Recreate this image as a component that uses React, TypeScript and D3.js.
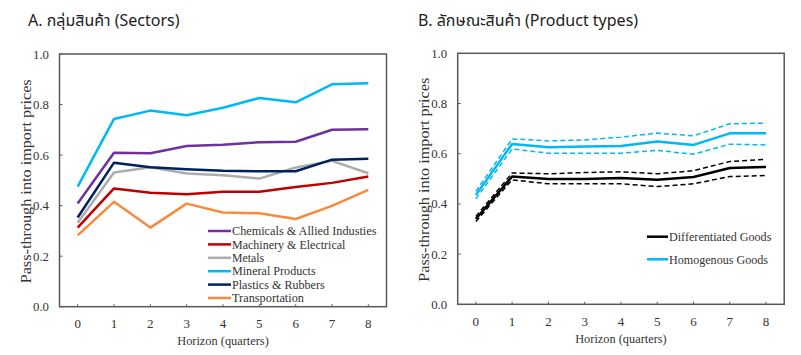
import React from "react";
import * as d3 from "d3";

const horizons = [0, 1, 2, 3, 4, 5, 6, 7, 8];
const yTicks = [0, 0.2, 0.4, 0.6, 0.8, 1.0];

const sectorNames = [
  "Chemicals & Allied Industies",
  "Machinery & Electrical",
  "Metals",
  "Mineral Products",
  "Plastics & Rubbers",
  "Transportation",
];
const chemicals = [0.408, 0.609, 0.607, 0.636, 0.641, 0.651, 0.653, 0.7, 0.702];
const machinery = [0.313, 0.468, 0.451, 0.445, 0.455, 0.455, 0.474, 0.49, 0.515];
const metals = [0.332, 0.531, 0.552, 0.527, 0.52, 0.507, 0.551, 0.577, 0.528];
const mineral = [0.475, 0.743, 0.776, 0.758, 0.787, 0.826, 0.809, 0.88, 0.884];
const plastics = [0.353, 0.57, 0.552, 0.544, 0.538, 0.536, 0.536, 0.582, 0.585];
const transportation = [0.282, 0.415, 0.313, 0.408, 0.373, 0.37, 0.347, 0.399, 0.462];
const sectorColors = ["#7030A0", "#C00000", "#ADADAD", "#00B8F5", "#002060", "#F68B3F"];

const productNames = ["Differentiated Goods", "Homogenous Goods"];
const diffMid = [0.34, 0.509, 0.499, 0.499, 0.503, 0.496, 0.507, 0.543, 0.547];
const diffUp = [0.35, 0.523, 0.52, 0.525, 0.528, 0.52, 0.532, 0.569, 0.578];
const diffLo = [0.33, 0.496, 0.48, 0.48, 0.48, 0.469, 0.48, 0.509, 0.513];
const homoMid = [0.435, 0.639, 0.626, 0.629, 0.631, 0.649, 0.635, 0.681, 0.681];
const homoUp = [0.45, 0.659, 0.651, 0.655, 0.666, 0.682, 0.671, 0.719, 0.722];
const homoLo = [0.42, 0.619, 0.602, 0.602, 0.602, 0.613, 0.598, 0.638, 0.635];
const productColors = ["#000000", "#00B8F5"];

// measured text widths in the reference (px)
const sectorLabelWidths = [144.4, 113.4, 32, 83.7, 92.7, 72];
const productLabelWidths = [102.4, 99];

const serif =
  "'Liberation Serif', Tinos, 'Nimbus Roman', 'Nimbus Roman No9 L', FreeSerif, 'Times New Roman', Times, 'DejaVu Serif', serif";
const sans = "Tahoma, 'Noto Sans Thai', 'Leelawadee UI', 'Noto Sans', 'DejaVu Sans', sans-serif";
const serifStyle = { fontFamily: serif };

type PanelProps = {
  x0: number; x1: number; yTop: number; yBot: number;
  children: (x: d3.ScaleLinear<number, number>, y: d3.ScaleLinear<number, number>) => React.ReactNode;
};

function Panel({ x0, x1, yTop, yBot, children }: PanelProps) {
  const x = d3.scaleLinear().domain([-0.5, 8.5]).range([x0, x1]);
  const y = d3.scaleLinear().domain([0, 1]).range([yBot, yTop]);
  const frame = "#595959";
  return (
    <g>
      {children(x, y)}
      <rect x={x0} y={yTop} width={x1 - x0} height={yBot - yTop} fill="none" stroke={frame} strokeWidth={1.5} />
      {yTicks.map((t) => (
        <g key={t}>
          <line x1={x0} x2={x0 + 3} y1={y(t)} y2={y(t)} stroke={frame} strokeWidth={1} />
          <text x={x0 - 10.5} y={y(t)} dy="0.35em" textAnchor="end" style={serifStyle} fontSize={13} fill="#333"
            textLength={16} lengthAdjust="spacingAndGlyphs">
            {t.toFixed(1)}
          </text>
        </g>
      ))}
      {horizons.map((h) => (
        <g key={h}>
          <line x1={x(h)} x2={x(h)} y1={yBot} y2={yBot - 2.5} stroke={frame} strokeWidth={1} />
          <text x={x(h)} y={yBot + 17} dy="0.35em" textAnchor="middle" style={serifStyle} fontSize={13} fill="#333">
            {h}
          </text>
        </g>
      ))}
      <text x={(x0 + x1) / 2} y={yBot + 34} dy="0.35em" textAnchor="middle" style={serifStyle} fontSize={13} fill="#333"
        textLength={91.5} lengthAdjust="spacingAndGlyphs">
        Horizon (quarters)
      </text>
      <text
        transform={`translate(${x0 - 34},${(yTop + yBot) / 2 + 1}) rotate(-90)`}
        textAnchor="middle"
        dy="0.35em"
        style={serifStyle}
        fontSize={15}
        fill="#333"
        textLength={204}
        lengthAdjust="spacingAndGlyphs"
      >
        Pass-through into import prices
      </text>
    </g>
  );
}

export default function App() {
  const sectors = [chemicals, machinery, metals, mineral, plastics, transportation];
  return (
    <svg width={801} height={355} style={{ position: "absolute", left: 0, top: 0, background: "#fff" }}>
      <text x={28} y={26} style={{ fontFamily: sans }} fontSize={16} fill="#222">A. กลุ่มสินค้า (Sectors)</text>
      <text x={418} y={26} style={{ fontFamily: sans }} fontSize={16} fill="#222">B. ลักษณะสินค้า (Product types)</text>

      <Panel x0={59.5} x1={386.5} yTop={54} yBot={306.7}>
        {(x, y) => {
          const line = (vals: number[]) =>
            d3.line<number>().x((_, i) => x(horizons[i])).y((v) => y(v))(vals) || "";
          return (
            <g>
              {sectors.map((s, i) => (
                <path key={i} d={line(s)} fill="none" stroke={sectorColors[i]} strokeWidth={2.5} strokeLinejoin="round" />
              ))}
              {sectorNames.map((n, i) => (
                <g key={n} transform={`translate(208,${231 + i * 13.4})`}>
                  <line x1={0} x2={23} y1={0} y2={0} stroke={sectorColors[i]} strokeWidth={2.5} />
                  <text x={24} y={0} dy="0.35em" style={serifStyle} fontSize={12} fill="#333"
                    textLength={sectorLabelWidths[i]} lengthAdjust="spacingAndGlyphs">{n}</text>
                </g>
              ))}
            </g>
          );
        }}
      </Panel>

      <Panel x0={457.7} x1={784.2} yTop={53.3} yBot={304.3}>
        {(x, y) => {
          const line = (vals: number[]) =>
            d3.line<number>().x((_, i) => x(horizons[i])).y((v) => y(v))(vals) || "";
          const groups = [
            [diffMid, diffUp, diffLo],
            [homoMid, homoUp, homoLo],
          ];
          return (
            <g>
              {groups.map((g, gi) => (
                <g key={gi}>
                  <path d={line(g[1])} fill="none" stroke={productColors[gi]} strokeWidth={1.5} strokeDasharray="5,3" />
                  <path d={line(g[2])} fill="none" stroke={productColors[gi]} strokeWidth={1.5} strokeDasharray="5,3" />
                  <path d={line(g[0])} fill="none" stroke={productColors[gi]} strokeWidth={2.5} strokeLinejoin="round" />
                </g>
              ))}
              {productNames.map((n, i) => (
                <g key={n} transform={`translate(647,${236.7 + i * 22.6})`}>
                  <line x1={0} x2={21} y1={0} y2={0} stroke={productColors[i]} strokeWidth={2.5} />
                  <text x={22} y={0} dy="0.35em" style={serifStyle} fontSize={13} fill="#333"
                    textLength={productLabelWidths[i]} lengthAdjust="spacingAndGlyphs">{n}</text>
                </g>
              ))}
            </g>
          );
        }}
      </Panel>
    </svg>
  );
}
